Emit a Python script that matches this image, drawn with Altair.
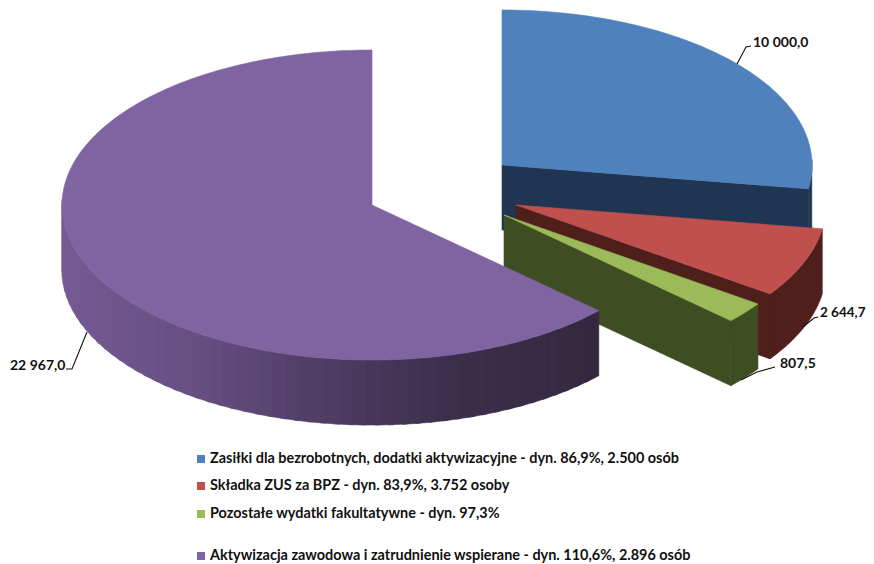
import numpy as np
import pandas as pd
import altair as alt

# ---- data
value_labels = ["10 000,0", "2 644,7", "807,5", "22 967,0"]
values = [10000.0, 2644.7, 807.5, 22967.0]
legend_labels = [
    "Zasiłki dla bezrobotnych, dodatki aktywizacyjne - dyn. 86,9%, 2.500 osób",
    "Składka ZUS za BPZ - dyn. 83,9%, 3.752 osoby",
    "Pozostałe wydatki fakultatywne - dyn. 97,3%",
    "Aktywizacja zawodowa i zatrudnienie wspierane - dyn. 110,6%, 2.896 osób",
]

# ---- styling
top_colors = ["#4F81BD", "#C0504D", "#9BBB59", "#8064A2"]
wall_colors = ["#1F3551", "#4F1F1C", "#3F4D22", None]
centers_x = [502, 516, 504, 372]
centers_y = [165, 205, 215, 205]
RX, RY, DEPTH = 310, 155, 65
W, H = 858, 556
purple_stop_x = [62, 110, 200, 300, 372, 450, 598]
purple_stop_rgb = [
    (0x76, 0x5B, 0x94), (0x70, 0x56, 0x8D), (0x66, 0x4E, 0x80), (0x53, 0x40, 0x69),
    (0x47, 0x37, 0x5A), (0x3C, 0x2F, 0x4C), (0x34, 0x28, 0x40),
]

label_x = [753, 820, 780, 10]
label_y = [43, 313, 364, 366]
label_size = [14, 13.5, 14, 14]
leaders = [
    [(737, 64), (746, 47), (751, 46)],
    [(803, 327), (814, 318), (818, 317)],
    [(741, 380), (757, 372), (775, 367)],
    [(87, 332), (72, 369), (66, 369)],
]
legend_y = [459, 486, 514, 556]

total = sum(values)
edges = np.concatenate([[0.0], np.cumsum(values)]) / total * 360.0

rows = []
poly_id = [0]


def add_poly(pts, color):
    i = poly_id[0]
    poly_id[0] += 1
    pts = list(pts) + [pts[0]]
    for s, (x, y) in enumerate(pts):
        rows.append({"pid": i, "seq": s, "x": float(x), "y": float(y), "c": color})


def rim(k, deg):
    a = np.radians(deg)
    return centers_x[k] + RX * np.sin(a), centers_y[k] - RY * np.cos(a)


def arc(k, a0, a1, dy=0.0, step=1.0):
    n = max(2, int(abs(a1 - a0) / step) + 1)
    return [(rim(k, d)[0], rim(k, d)[1] + dy) for d in np.linspace(a0, a1, n)]


def wall(k, a0, a1, color):
    top = arc(k, a0, a1)
    bottom = arc(k, a0, a1, DEPTH)
    add_poly(top + bottom[::-1], color)


def cut_face(k, a, color):
    cx, cy = centers_x[k], centers_y[k]
    px, py = rim(k, a)
    add_poly([(cx, cy), (px, py), (px, py + DEPTH), (cx, cy + DEPTH)], color)


def sector(k, a0, a1):
    add_poly([(centers_x[k], centers_y[k])] + arc(k, a0, a1), top_colors[k])


def purple_shade(x):
    ch = [np.interp(x, purple_stop_x, [c[j] for c in purple_stop_rgb]) for j in range(3)]
    return "#%02X%02X%02X" % tuple(int(round(v)) for v in ch)


# blue slice
cut_face(0, edges[1], wall_colors[0])
wall(0, 88, edges[1], wall_colors[0])
sector(0, edges[0], edges[1])
# red slice
cut_face(1, edges[2], wall_colors[1])
wall(1, edges[1], edges[2], wall_colors[1])
sector(1, edges[1], edges[2])
# green slice
cut_face(2, edges[3], wall_colors[2])
wall(2, edges[2], edges[3], wall_colors[2])
sector(2, edges[2], edges[3])
# purple slice: shaded wall in overlapping bands, so no seams show
band_edges = np.linspace(edges[3], 272, 56)
for a0, a1 in zip(band_edges[:-1], band_edges[1:]):
    wall(3, a0, min(a1 + 1.0, 272), purple_shade(rim(3, (a0 + a1) / 2)[0]))
sector(3, edges[3], edges[4])

poly_df = pd.DataFrame(rows)

x_scale = alt.Scale(domain=[8, 8 + W], nice=False, zero=False)
y_scale = alt.Scale(domain=[8, 8 + H], nice=False, zero=False, reverse=True)
x_enc = alt.X("x:Q", scale=x_scale, axis=None)
y_enc = alt.Y("y:Q", scale=y_scale, axis=None)

pie = alt.Chart(poly_df).mark_line(strokeWidth=0.6, interpolate="linear").encode(
    x=x_enc, y=y_enc,
    detail="pid:N",
    order=alt.Order("seq:Q"),
    fill=alt.Fill("c:N", scale=None),
    stroke=alt.Stroke("c:N", scale=None),
)

leader_df = pd.DataFrame(
    [{"pid": i, "seq": s, "x": p[0], "y": p[1]} for i, l in enumerate(leaders) for s, p in enumerate(l)]
)
leader_chart = alt.Chart(leader_df).mark_line(color="#111111", strokeWidth=1.1).encode(
    x=x_enc, y=y_enc, detail="pid:N", order=alt.Order("seq:Q")
)

FONT = "Lato"
label_df = pd.DataFrame({"x": label_x, "y": label_y, "t": value_labels, "s": label_size})
label_chart = alt.Chart(label_df).mark_text(
    font=FONT, fontWeight="bold", align="left", baseline="middle", color="#111111"
).encode(x=x_enc, y=y_enc, text="t:N", size=alt.Size("s:Q", scale=None, legend=None))

legend_df = pd.DataFrame(
    {"sx": [201] * 4, "tx": [210] * 4, "y": legend_y, "t": legend_labels, "c": top_colors}
)
legend_sq = alt.Chart(legend_df).mark_square(size=64, opacity=1).encode(
    x=alt.X("sx:Q", scale=x_scale, axis=None), y=y_enc,
    color=alt.Color("c:N", scale=None),
)
legend_tx = alt.Chart(legend_df).mark_text(
    font=FONT, fontWeight="bold", fontSize=14.45, align="left", baseline="middle", color="#111111"
).encode(x=alt.X("tx:Q", scale=x_scale, axis=None), y=y_enc, text="t:N")

chart = (
    alt.layer(pie, leader_chart, label_chart, legend_sq, legend_tx)
    .properties(width=W, height=H, padding=0, autosize=alt.AutoSizeParams(type="none"), background="white")
    .configure_view(stroke=None)
)
chart.save("out.html", embed_options={"renderer": "svg", "actions": False})
